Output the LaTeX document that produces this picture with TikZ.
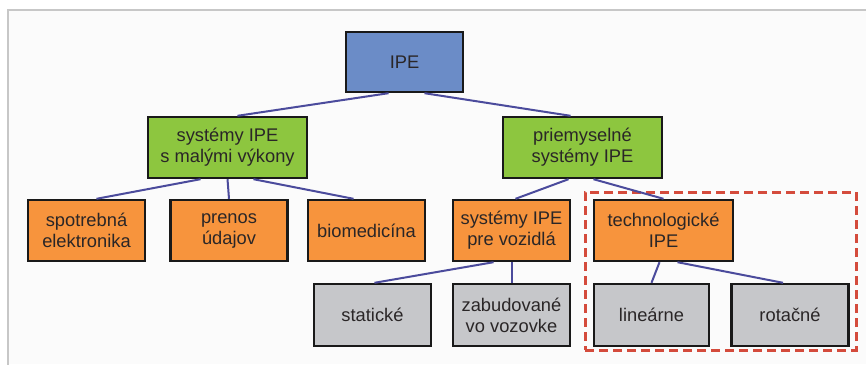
\documentclass[tikz,border=0pt]{standalone}
\usepackage{fontspec}
\setmainfont{Liberation Sans}
\definecolor{ipeblue}{HTML}{6B8CC7}
\definecolor{ipegreen}{HTML}{8DC63F}
\definecolor{ipeorange}{HTML}{F7943D}
\definecolor{ipegray}{HTML}{C6C7CA}
\definecolor{linkcol}{HTML}{4B4B9C}
\definecolor{reddash}{HTML}{D44B3C}
\definecolor{txt}{HTML}{2A2627}
\begin{document}
\begin{tikzpicture}[x=1pt,y=-1pt,
  box/.style={draw=black!90,line width=2.4pt,align=center,inner sep=0pt,text=txt,
    font=\fontsize{18.3}{21}\selectfont,minimum height=61pt,minimum width=117pt},
  bluebox/.style={box,fill=ipeblue,minimum height=60pt},
  greenbox/.style={box,fill=ipegreen,minimum width=159pt},
  orangebox/.style={box,fill=ipeorange},
  graybox/.style={box,fill=ipegray,minimum height=62pt},
  link/.style={draw=linkcol,line width=2pt},
  group/.style={draw=reddash,line width=3pt,dash pattern=on 9pt off 5pt}]
\useasboundingbox (0,0) rectangle (866,364);
\fill[white] (0,0) rectangle (866,364);
\fill[black!1.5] (8,10) rectangle (866,364);
\draw[black!22,line width=1.6pt] (8,370) -- (8,10) -- (870,10);

\node[group,minimum width=271pt,minimum height=158pt,inner sep=0pt] (grp) at (720.5,271) {};

\node[bluebox] (ipe) at (404.5,62) {IPE};
\node[greenbox] (gl) at (227.5,147.5) {systémy IPE\\s malými výkony};
\node[greenbox] (gr) at (582.5,147.5) {priemyselné\\systémy IPE};

\node[orangebox] (o1) at (86.5,230.5) {spotrebná\\elektronika};
\node[orangebox] (o2) at (229,230.5) {prenos\\údajov};
\node[orangebox] (o3) at (366.5,230.5) {biomedicína};
\node[orangebox] (o4) at (511.5,230.5) {systémy IPE\\pre vozidlá};
\node[orangebox,minimum width=139pt] (o5) at (663.5,230.5) {technologické\\IPE};

\node[graybox] (g1) at (372.5,315) {statické};
\node[graybox] (g2) at (511.5,315) {zabudované\\vo vozovke};
\node[graybox,minimum width=115pt] (g3) at (651.5,315) {lineárne};
\node[graybox] (g4) at (790,315) {rotačné};

\draw[link] ([xshift=-16pt]ipe.south) -- ([xshift=10pt]gl.north);
\draw[link] ([xshift=20pt]ipe.south) -- ([xshift=-12pt]gr.north);

\draw[link] ([xshift=-27pt]gl.south) -- ([xshift=10pt]o1.north);
\draw[link] (gl.south) -- (o2.north);
\draw[link] ([xshift=26pt]gl.south) -- ([xshift=-13pt]o3.north);

\draw[link] ([xshift=-14pt]gr.south) -- ([xshift=4pt]o4.north);
\draw[link] ([xshift=11pt]gr.south) -- (o5.north);

\draw[link] ([xshift=-18pt]o4.south) -- ([xshift=2pt]g1.north);
\draw[link] (o4.south) -- (g2.north);

\draw[link] ([xshift=-4pt]o5.south) -- (g3.north);
\draw[link] ([xshift=14pt]o5.south) -- ([xshift=-7pt]g4.north);
\end{tikzpicture}
\end{document}
